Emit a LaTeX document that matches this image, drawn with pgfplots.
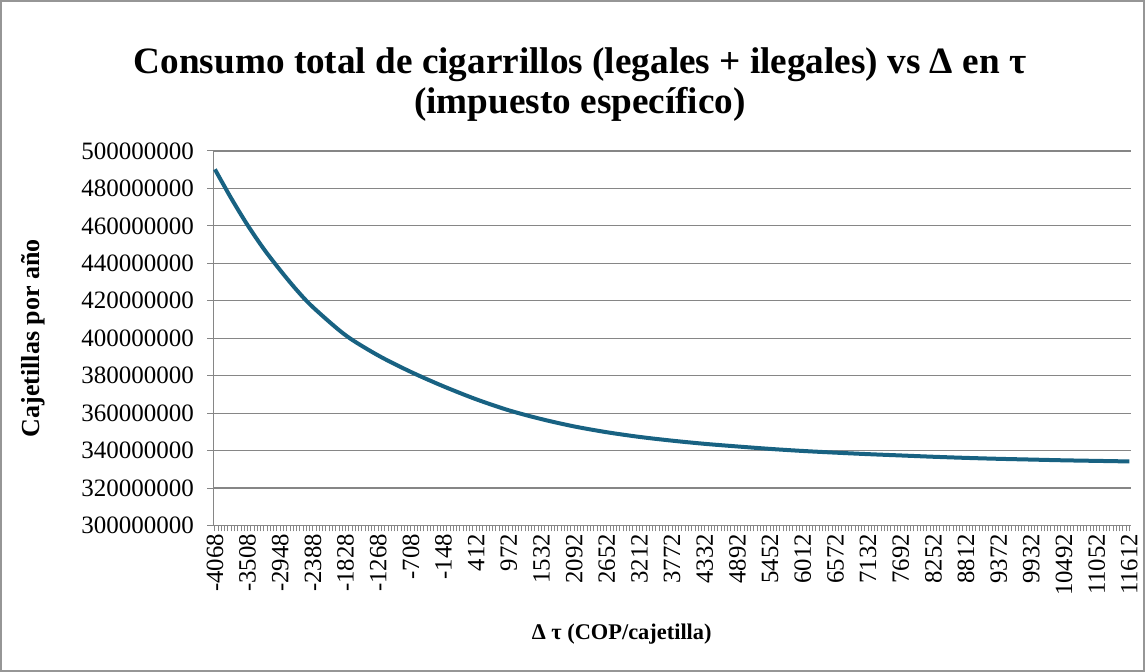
\documentclass[border=0pt]{standalone}
\usepackage{pgfplots}
\pgfplotsset{compat=1.18}
\usepackage{fontspec}
\setmainfont{Liberation Serif}
\definecolor{linecol}{RGB}{24,98,130}
\definecolor{axgray}{RGB}{134,134,134}
\definecolor{bordergray}{RGB}{150,150,150}
\begin{document}
\begin{tikzpicture}[x=1pt,y=1pt]
\useasboundingbox (0,0) rectangle (573,336);
\draw[bordergray,line width=0.6pt] (0.5,0.5) rectangle (572,335.5);
\begin{axis}[
  at={(106.65pt,73.25pt)}, anchor=south west,
  scale only axis, width=458.85pt, height=187.25pt,
  xmin=-4096, xmax=11640,
  ymin=300000000, ymax=500000000,
  axis lines*=left,
  axis line style={axgray,line width=0.6pt,-},
  tick style={axgray,line width=0.5pt},
  tick align=outside,
  major tick length=3pt, minor tick length=3pt,
  xtick={-4068,-3508,-2948,-2388,-1828,-1268,-708,-148,412,972,1532,2092,2652,3212,3772,4332,4892,5452,6012,6572,7132,7692,8252,8812,9372,9932,10492,11052,11612},
  xticklabels={-4068,-3508,-2948,-2388,-1828,-1268,-708,-148,412,972,1532,2092,2652,3212,3772,4332,4892,5452,6012,6572,7132,7692,8252,8812,9372,9932,10492,11052,11612},
  minor x tick num=9,
  ytick={300000000,320000000,340000000,360000000,380000000,400000000,420000000,440000000,460000000,480000000,500000000},
  yticklabels={300000000,320000000,340000000,360000000,380000000,400000000,420000000,440000000,460000000,480000000,500000000},
  scaled y ticks=false, scaled x ticks=false,
  ymajorgrids,
  grid style={axgray,line width=0.6pt},
  xticklabel style={rotate=90,anchor=east,font=\fontsize{12.4}{14}\selectfont,inner sep=1pt},
  yticklabel style={anchor=east,font=\fontsize{12.5}{14}\selectfont,inner sep=1pt,xshift=-5.5pt},
  xlabel={\textbf{Δ τ (COP/cajetilla)}},
  ylabel={\textbf{Cajetillas por año}},
  xlabel style={at={(axis description cs:0.445,-0.29)},anchor=center,font=\fontsize{11.2}{13}\selectfont},
  ylabel style={at={(axis description cs:-0.1965,0.5)},anchor=center,rotate=0,font=\fontsize{13}{15}\selectfont},
  clip=false,
]
\addplot[linecol, line width=2pt, smooth, tension=0.5] coordinates {
(-4068,490200000) (-3788,474700000) (-3508,460400000) (-3228,447600000)
(-2948,436300000) (-2668,425800000) (-2388,416600000) (-1828,401600000)
(-1268,390800000) (-708,382000000) (-148,374300000) (412,367400000)
(972,361500000) (1532,356800000) (2092,352900000) (2652,349800000)
(3212,347300000) (3772,345300000) (4332,343600000) (4892,342200000)
(5452,340900000) (6012,339800000) (6572,338900000) (7132,338100000)
(7692,337400000) (8252,336700000) (8812,336100000) (9372,335600000)
(9932,335200000) (10492,334800000) (11052,334500000) (11612,334200000)
};
\end{axis}
\node[align=center,font=\fontsize{18.6}{20}\selectfont\bfseries] at (290,293.5)
  {Consumo total de cigarrillos (legales + ilegales) vs Δ en τ\\(impuesto específico)};
\end{tikzpicture}
\end{document}
